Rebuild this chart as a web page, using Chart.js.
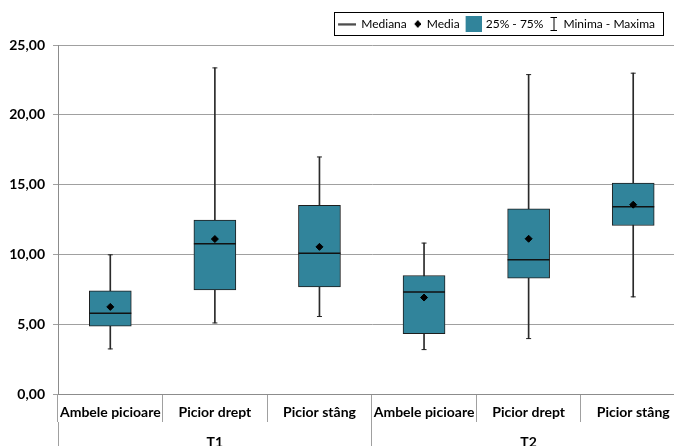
<!DOCTYPE html>
<html>
<head>
<meta charset="utf-8">
<title>Boxplot T1 / T2</title>
<script src="https://cdn.jsdelivr.net/npm/chart.js@4.4.0/dist/chart.umd.min.js"></script>
<style>
  html, body { margin: 0; padding: 0; overflow: hidden; background: #fff; }
  canvas { display: block; }
</style>
</head>
<body>
<!-- wider than the window: the right end of the plot is cut off like in the picture -->
<canvas id="myChart" width="708" height="446"></canvas>
<script>
'use strict';
// categories
var labels = ['Ambele picioare', 'Picior drept', 'Picior stâng', 'Ambele picioare', 'Picior drept', 'Picior stâng'];
var groups = ['T1', 'T2'];
// values
var minima = [3.23, 5.09, 5.55, 3.18, 3.97, 6.96];
var q1 = [4.86, 7.46, 7.67, 4.33, 8.30, 12.07];
var mediana = [5.79, 10.76, 10.09, 7.30, 9.61, 13.41];
var media = [6.24, 11.10, 10.54, 6.91, 11.12, 13.56];
var q3 = [7.39, 12.46, 13.51, 8.49, 13.27, 15.11];
var maxima = [9.97, 23.36, 16.98, 10.81, 22.88, 22.98];
// legend texts
var legendTexts = ['Mediana', 'Media', '25% - 75%', 'Minima - Maxima'];
var legendIndent = ['   ', '', '  ', '']; // room for the wider symbols

var teal = '#31849B';
var gridColor = '#a0a0a0';
var axisColor = '#8c8c8c';

Chart.defaults.font.family = 'Lato';

// small pictures for the legend symbols (legend box is 8px wide, wider ones spill left)
function makeIcon(w, h, draw) {
    var c = document.createElement('canvas');
    c.width = w;
    c.height = h;
    draw(c.getContext('2d'));
    return c;
}
var lineIcon = makeIcon(28, 3, function (ctx) {
    ctx.fillStyle = '#000';
    ctx.fillRect(10, 1, 18, 1.4);
});
var diamondIcon = makeIcon(8, 12, function (ctx) {
    ctx.fillStyle = '#000';
    ctx.beginPath();
    ctx.moveTo(5, 2);
    ctx.lineTo(8.5, 6);
    ctx.lineTo(5, 10);
    ctx.lineTo(1.5, 6);
    ctx.closePath();
    ctx.fill();
});
var boxIcon = makeIcon(24, 16, function (ctx) {
    ctx.fillStyle = teal;
    ctx.fillRect(8, 0, 16, 16);
});
var rangeIcon = makeIcon(8, 14, function (ctx) {
    ctx.fillStyle = '#000';
    ctx.fillRect(1, 0, 7, 1);
    ctx.fillRect(4, 0, 1, 14);
    ctx.fillRect(1, 13, 7, 1);
});
var icons = [lineIcon, diamondIcon, boxIcon, rangeIcon];

function pair(a, b) {
    var out = [];
    for (var i = 0; i < a.length; i++) {
        out.push([a[i], b[i]]);
    }
    return out;
}

function noSidePadding(s) {
    s.paddingLeft = 0;
    s.paddingRight = 0;
}

// move the legend to the right place and draw the frame round it
var legendPlugin = {
    id: 'legendPlace',
    afterLayout: function (chart) {
        var l = chart.legend;
        var h = l.bottom - l.top;
        var w = l.right - l.left;
        l.top = 12;
        l.bottom = l.top + h;
        l.right = 661;
        l.left = l.right - w;
    },
    afterDraw: function (chart) {
        var boxes = chart.legend.legendHitBoxes;
        if (!boxes || !boxes.length) return;
        var first = boxes[0];
        var last = boxes[boxes.length - 1];
        var ctx = chart.ctx;
        ctx.save();
        ctx.strokeStyle = '#000';
        ctx.lineWidth = 1;
        ctx.strokeRect(Math.round(first.left - 4) + 0.5, Math.round(first.top - 6) + 0.5,
            Math.round(last.left + last.width - first.left + 12), Math.round(first.height + 11));
        ctx.restore();
    }
};

var ctx = document.getElementById('myChart').getContext('2d');
var chart = new Chart(ctx, {
    data: {
        labels: labels,
        datasets: [{
            type: 'line',
            label: 'Media',
            data: media,
            showLine: false,
            pointStyle: 'rectRot',
            pointRadius: 3.5,
            pointBackgroundColor: '#000',
            pointBorderColor: '#000',
            pointBorderWidth: 1,
            order: 0
        }, {
            type: 'line',
            label: 'Mediana',
            data: mediana,
            showLine: false,
            pointStyle: 'line',
            pointRadius: 21,
            pointBorderColor: '#111',
            pointBorderWidth: 1.5,
            order: 1
        }, {
            type: 'bar',
            label: '25% - 75%',
            data: pair(q1, q3),
            backgroundColor: teal,
            borderColor: '#1e1e1e',
            borderWidth: 1,
            borderSkipped: false,
            barThickness: 42,
            grouped: false,
            order: 2
        }, {
            type: 'line',
            label: 'Maxima',
            data: maxima,
            showLine: false,
            pointStyle: 'line',
            pointRadius: 2.5,
            pointBorderColor: '#222',
            pointBorderWidth: 1,
            order: 3
        }, {
            type: 'line',
            label: 'Minima',
            data: minima,
            showLine: false,
            pointStyle: 'line',
            pointRadius: 2.5,
            pointBorderColor: '#222',
            pointBorderWidth: 1,
            order: 3
        }, {
            type: 'bar',
            label: 'Minima - Maxima',
            data: pair(minima, maxima),
            backgroundColor: '#2a2a2a',
            barThickness: 1,
            grouped: false,
            order: 4
        }]
    },
    options: {
        responsive: false,
        animation: false,
        events: [],
        layout: { padding: { top: 17, right: 0, left: 0, bottom: 0 } },
        plugins: {
            tooltip: { enabled: false },
            legend: {
                position: 'top',
                align: 'end',
                labels: {
                    usePointStyle: true,
                    pointStyleWidth: 8,
                    padding: 6,
                    color: '#000',
                    font: { size: 12 },
                    generateLabels: function () {
                        return legendTexts.map(function (t, i) {
                            return {
                                text: legendIndent[i] + t,
                                pointStyle: icons[i],
                                fillStyle: 'transparent',
                                strokeStyle: 'transparent',
                                lineWidth: 0,
                                hidden: false,
                                datasetIndex: i
                            };
                        });
                    }
                }
            }
        },
        scales: {
            x: {
                type: 'category',
                position: 'bottom',
                offset: true,
                grid: { offset: true, drawOnChartArea: false, tickLength: 28, color: gridColor },
                border: { color: axisColor },
                ticks: {
                    color: '#000',
                    font: { size: 14, weight: 'bold' },
                    padding: -18,
                    maxRotation: 0,
                    autoSkip: false
                },
                afterFit: function (s) { s.height = 28; noSidePadding(s); }
            },
            xg: {
                type: 'category',
                labels: groups,
                position: 'bottom',
                weight: 1,
                offset: true,
                grid: { offset: true, drawOnChartArea: false, tickLength: 24, color: gridColor },
                border: { display: false },
                ticks: {
                    color: '#000',
                    font: { size: 14, weight: 'bold' },
                    padding: -12,
                    maxRotation: 0,
                    autoSkip: false
                },
                afterFit: function (s) { s.height = 24; noSidePadding(s); }
            },
            y: {
                min: 0,
                max: 25,
                grid: { color: gridColor, tickLength: 5 },
                border: { color: axisColor },
                ticks: {
                    stepSize: 5,
                    padding: 8,
                    color: '#000',
                    font: { size: 14, weight: 'bold' },
                    callback: function (v) { return v.toFixed(2).replace('.', ','); }
                },
                afterFit: function (s) { s.width = 58; }
            }
        }
    },
    plugins: [legendPlugin]
});
</script>
</body>
</html>
